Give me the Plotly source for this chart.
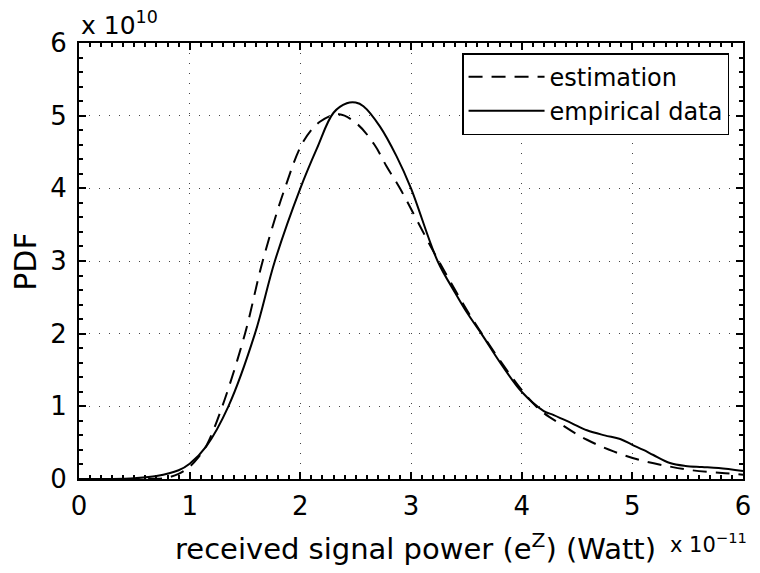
import plotly.graph_objects as go

# x in units of 1e-11 W, y in units of 1e10
est_x = [0, 0.5, 0.7, 0.8, 0.9, 1.0, 1.08, 1.155, 1.295, 1.5, 1.66, 1.86, 2.03, 2.18, 2.35,
         2.51, 2.67, 2.78, 2.9, 3.25, 3.64, 4.13, 4.37, 4.59, 4.83, 5.07, 5.31, 5.54, 5.84, 6.0]
est_y = [0, 0, 0.003, 0.02, 0.07, 0.17, 0.3, 0.47, 1.0, 2.0, 3.0, 4.0, 4.65, 4.92, 5.02,
         4.89, 4.6, 4.3, 4.0, 3.0, 2.0, 1.0, 0.74, 0.54, 0.38, 0.26, 0.18, 0.12, 0.08, 0.06]

emp_x = [0, 0.3, 0.5, 0.7, 0.9, 1.0, 1.15, 1.35, 1.59, 1.77, 2.0, 2.15, 2.3, 2.42, 2.5, 2.57,
         2.72, 2.87, 3.0, 3.24, 3.4, 3.51, 3.64, 3.82, 4.0, 4.2, 4.29, 4.45, 4.59, 4.75, 4.89,
         5.0, 5.1, 5.19, 5.34, 5.48, 5.63, 5.78, 6.0]
emp_y = [0, 0.0, 0.01, 0.04, 0.12, 0.21, 0.45, 1.0, 2.0, 3.0, 4.0, 4.55, 5.04, 5.17, 5.18, 5.13,
         4.85, 4.44, 4.0, 3.0, 2.56, 2.28, 1.99, 1.57, 1.2, 0.935, 0.88, 0.77, 0.67, 0.6, 0.55,
         0.47, 0.4, 0.33, 0.22, 0.18, 0.165, 0.15, 0.11]

tick_vals = [0, 1, 2, 3, 4, 5, 6]
tick_text = ["0", "1", "2", "3", "4", "5", "6"]

FONT = "DejaVu Sans"

fig = go.Figure()
fig.add_trace(go.Scatter(x=est_x, y=est_y, mode="lines", name="estimation",
                         line=dict(color="black", width=2, dash="14px,9px", shape="spline")))
fig.add_trace(go.Scatter(x=emp_x, y=emp_y, mode="lines", name="empirical data",
                         line=dict(color="black", width=2, shape="spline")))

axis_common = dict(
    range=[0, 6], tickvals=tick_vals, ticktext=tick_text,
    ticks="inside", ticklen=7, tickwidth=1.5, tickcolor="black",
    showline=True, linecolor="black", linewidth=2, mirror="allticks",
    showgrid=True, gridcolor="#444", gridwidth=1, griddash="1px,9px",
    zeroline=False, tickfont=dict(size=26, family=FONT, color="black"),
)

fig.update_layout(
    width=760, height=573,
    margin=dict(l=79, r=9, t=43, b=94),
    plot_bgcolor="white", paper_bgcolor="white",
    font=dict(family=FONT, size=26, color="black"),
    xaxis=dict(**axis_common, minor=dict(dtick=0.1, ticks="inside", ticklen=4,
                                         tickcolor="black", showgrid=False),
               ticklabelstandoff=3),
    yaxis=dict(**axis_common, minor=dict(dtick=0.2, ticks="inside", ticklen=4,
                                         tickcolor="black", showgrid=False),
               ticklabelstandoff=5),
    legend=dict(x=0.979, y=0.977, xanchor="right", yanchor="top",
                bordercolor="black", borderwidth=1.5, bgcolor="white",
                font=dict(size=24, family=FONT, color="black"),
                itemwidth=76, tracegroupgap=0),
    showlegend=True,
)

fig.add_annotation(text="received signal power (e<sup>Z</sup>) (Watt)",
                   xref="paper", yref="paper", x=0.5074, y=-0.156,
                   xanchor="center", yanchor="middle", showarrow=False,
                   font=dict(size=29, family=FONT, color="black"))
fig.add_annotation(text="x 10<sup>\u221211</sup>",
                   xref="paper", yref="paper", x=0.887, y=-0.147,
                   xanchor="left", yanchor="middle", showarrow=False,
                   font=dict(size=21, family=FONT, color="black"))
fig.add_annotation(text="x 10<sup>10</sup>",
                   xref="paper", yref="paper", x=0.0, y=1.045,
                   xanchor="left", yanchor="middle", showarrow=False,
                   font=dict(size=25, family=FONT, color="black"))
fig.add_annotation(text="PDF", textangle=-90,
                   xref="paper", yref="paper", x=-0.080, y=0.498,
                   xanchor="center", yanchor="middle", showarrow=False,
                   font=dict(size=30, family=FONT, color="black"))

fig.write_html("out.html")
